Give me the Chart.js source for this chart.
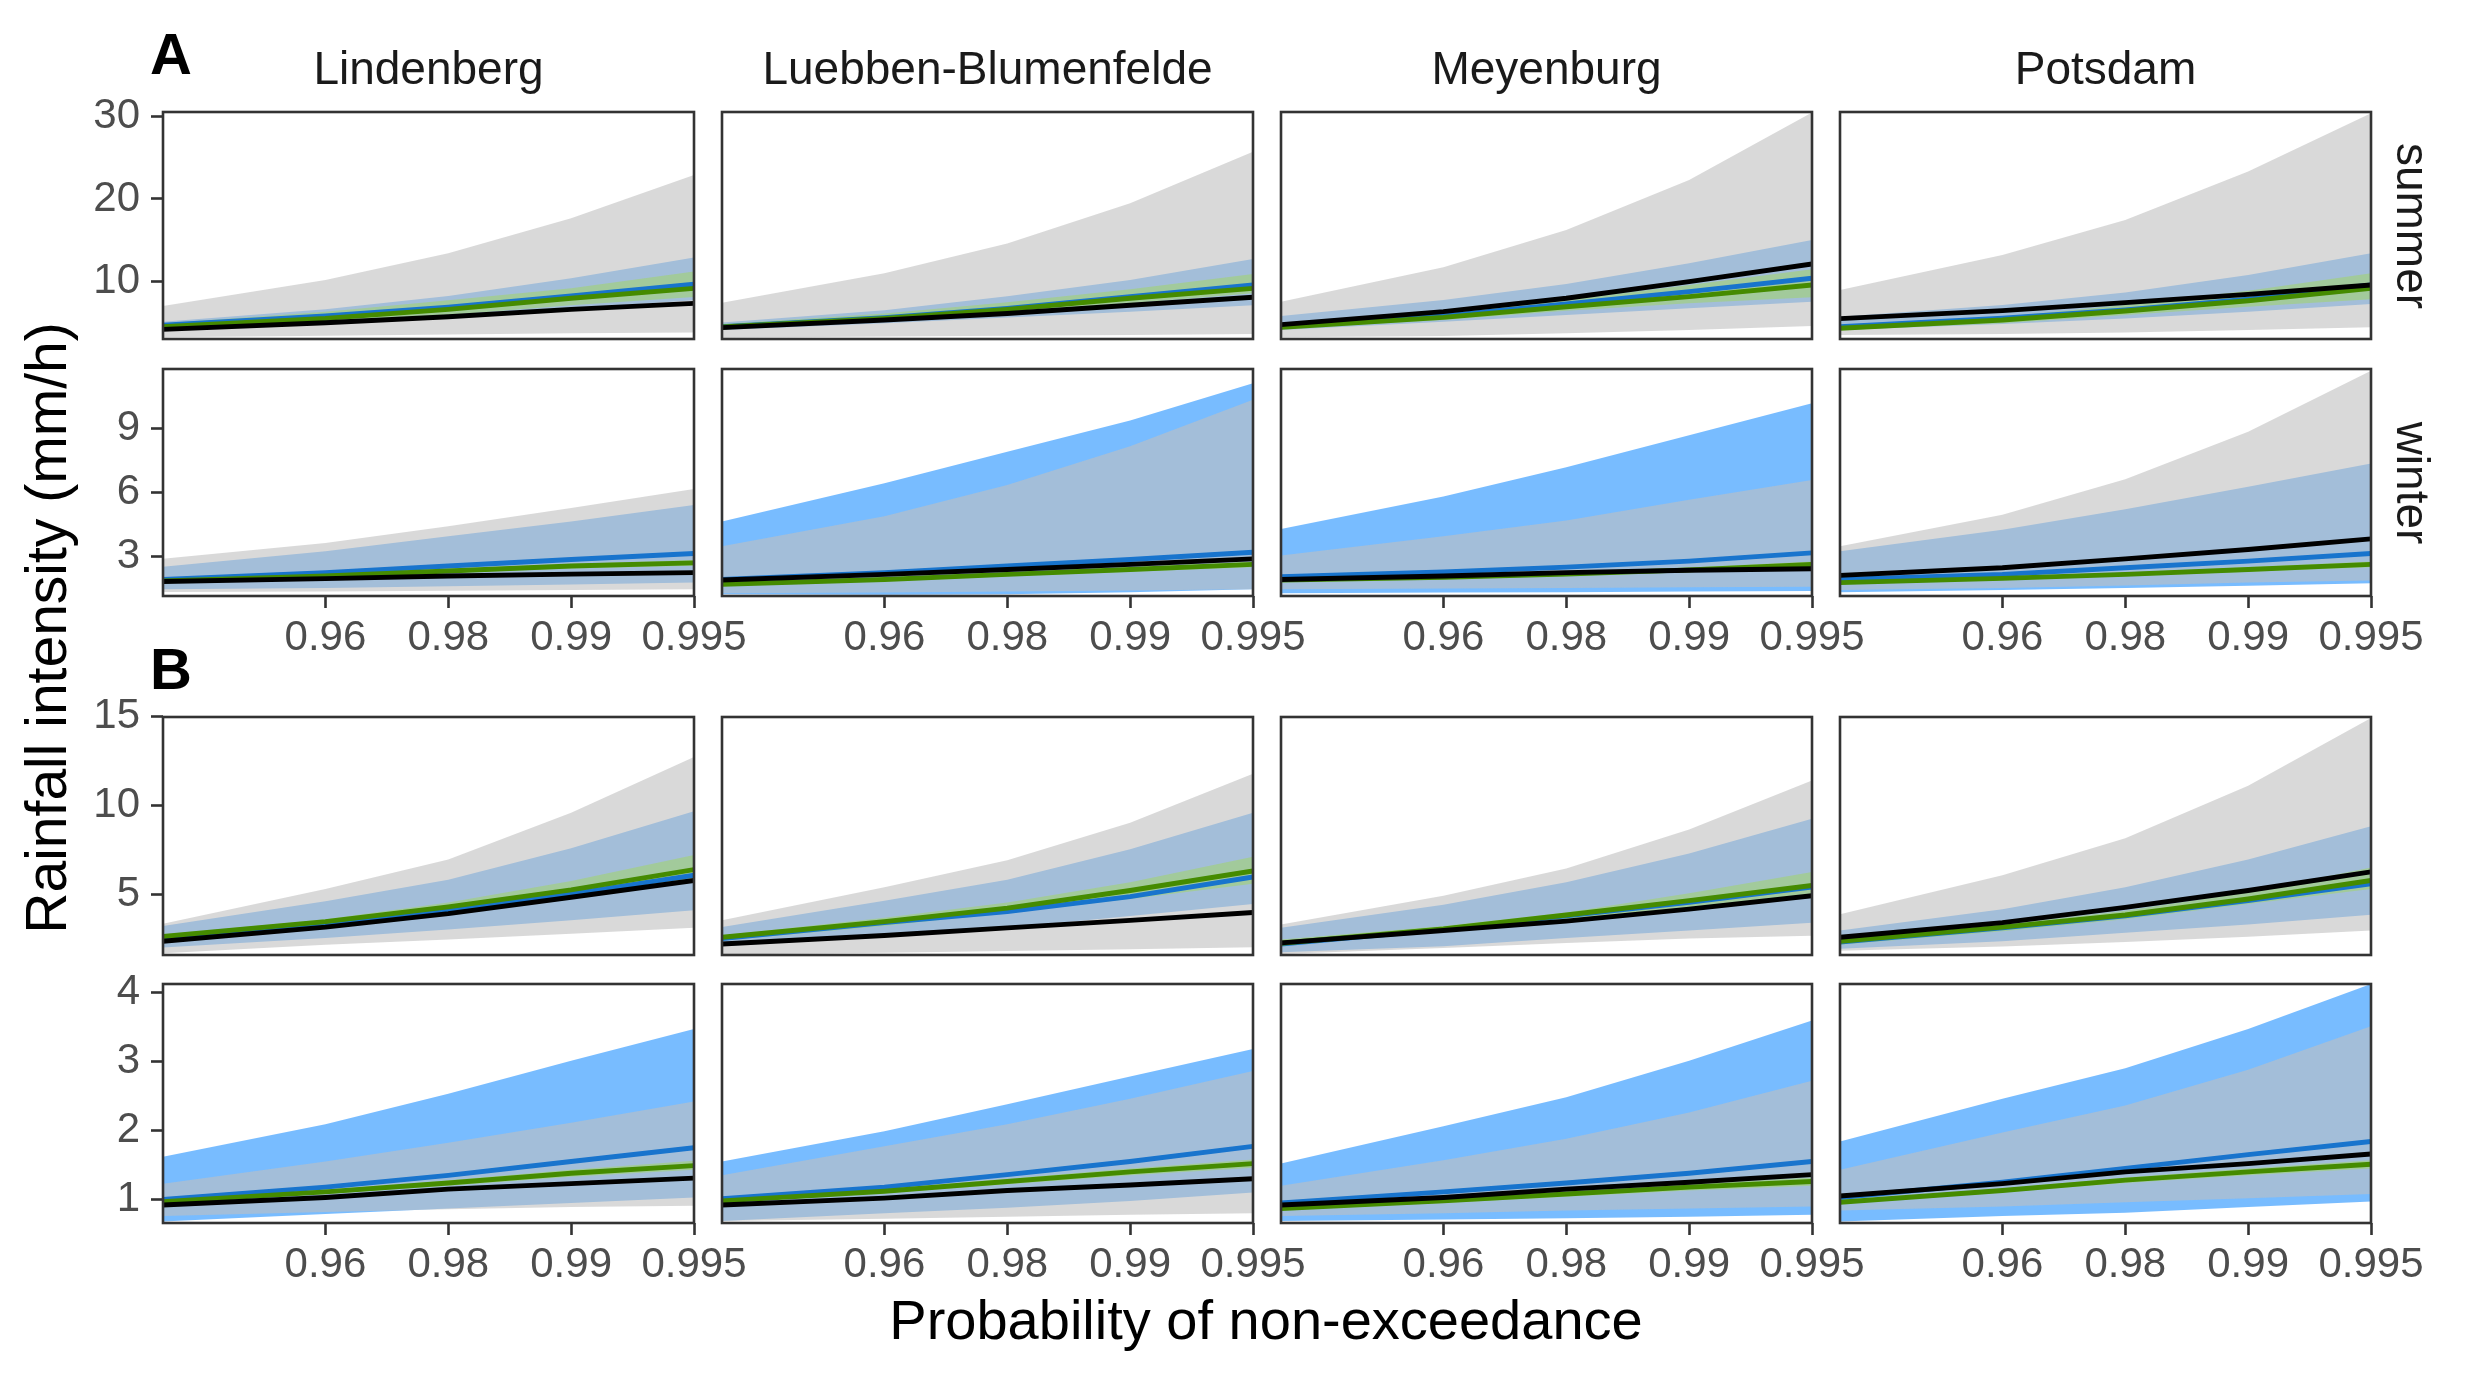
<!DOCTYPE html>
<html><head><meta charset="utf-8">
<script src="https://cdn.jsdelivr.net/npm/chart.js@4.4.1/dist/chart.umd.min.js"></script>
<style>
html,body{margin:0;padding:0;background:#fff;}
#root{position:relative;width:2482px;height:1379px;overflow:hidden;background:#fff;font-family:"Liberation Sans",Arial,sans-serif;}
#root canvas{position:absolute;}
.t{position:absolute;white-space:nowrap;line-height:1;}
</style></head><body><div id="root"></div>
<script>
// ---------------- DATA ----------------
const stations = ["Lindenberg", "Luebben-Blumenfelde", "Meyenburg", "Potsdam"];
const seasons = ["summer", "winter"];
const blockLabels = ["A", "B"];
const probs = [0.9, 0.96, 0.98, 0.99, 0.995];
const xTickProbs = [0.96, 0.98, 0.99, 0.995];
const xTickLabels = ["0.96", "0.98", "0.99", "0.995"];
const yTicks_A_summer = [10, 20, 30];
const yTicks_A_winter = [3, 6, 9];
const yTicks_B_summer = [5, 10, 15];
const yTicks_B_winter = [1, 2, 3, 4];
const yLim_A_summer = [3.0, 30.55];
const yLim_A_winter = [1.12, 11.81];
const yLim_B_summer = [1.57, 14.97];
const yLim_B_winter = [0.66, 4.12];

// each array: [Lindenberg, Luebben-Blumenfelde, Meyenburg, Potsdam], values at probs
const A_summer_grayLo = [[3.2,3.4,3.55,3.7,3.8],[3.15,3.3,3.4,3.5,3.6],[3.2,3.36,3.69,4.1,4.58],[3.49,3.6,3.8,4.1,4.42]];
const A_summer_grayHi = [[7.0,10.16,13.4,17.65,22.9],[7.41,10.97,14.6,19.47,25.74],[7.53,11.7,16.23,22.3,30.48],[8.95,13.2,17.45,23.32,30.4]];
const A_summer_blueLo = [[4.0,4.8,5.6,6.7,7.7],[4.1,4.9,5.6,6.3,7.1],[4.1,5.1,5.91,6.72,7.53],[4.1,4.82,5.5,6.32,7.25]];
const A_summer_blueHi = [[5.1,6.6,8.22,10.37,12.9],[5.0,6.5,8.2,10.16,12.7],[5.79,7.73,9.68,12.19,15.02],[5.71,7.13,8.63,10.77,13.4]];
const A_summer_greenLo = [[4.1,5.0,5.9,7.1,8.1],[4.17,5.19,6.1,7.33,8.54],[4.17,5.3,6.44,7.33,8.06],[4.1,4.9,5.91,6.92,7.82]];
const A_summer_greenHi = [[4.9,6.3,7.7,9.15,11.2],[4.82,6.1,7.45,9.03,10.9],[4.7,6.12,7.73,9.56,11.46],[4.5,5.71,7.13,8.87,10.97]];
const A_summer_blueLine = [[4.66,5.8,6.85,8.22,9.64],[4.5,5.6,6.72,8.14,9.56],[4.5,5.79,7.25,8.75,10.37],[4.5,5.51,6.52,7.82,9.56]];
const A_summer_greenLine = [[4.5,5.5,6.6,7.94,9.15],[4.46,5.5,6.6,7.94,9.15],[4.42,5.63,6.92,8.14,9.56],[4.3,5.3,6.4,7.65,9.15]];
const A_summer_black = [[4.17,4.98,5.7,6.6,7.33],[4.38,5.3,6.1,7.1,8.06],[4.74,6.32,7.94,9.96,12.11],[5.47,6.44,7.41,8.42,9.56]];

const A_winter_grayLo = [[1.31,1.33,1.37,1.4,1.44],[1.25,1.28,1.33,1.38,1.44],[1.44,1.47,1.5,1.53,1.56],[1.4,1.5,1.62,1.75,1.85]];
const A_winter_grayHi = [[2.87,3.62,4.4,5.26,6.16],[3.46,4.87,6.35,8.17,10.36],[3.03,3.93,4.68,5.65,6.58],[3.46,4.95,6.62,8.85,11.73]];
const A_winter_blueLo = [[1.44,1.5,1.58,1.66,1.75],[1.2,1.18,1.2,1.3,1.44],[1.25,1.28,1.3,1.33,1.36],[1.3,1.4,1.5,1.6,1.72]];
const A_winter_blueHi = [[2.5,3.23,3.93,4.63,5.41],[4.63,6.43,7.91,9.39,11.14],[4.28,5.8,7.18,8.69,10.2],[3.23,4.24,5.21,6.27,7.36]];
const A_winter_greenLo = [[1.78,1.99,2.21,2.42,2.55],[1.62,1.83,2.05,2.26,2.47],[1.82,1.93,2.06,2.24,2.46],[1.7,1.88,2.05,2.26,2.47]];
const A_winter_greenHi = [[1.88,2.13,2.39,2.64,2.82],[1.72,1.97,2.23,2.48,2.75],[1.92,2.07,2.24,2.46,2.74],[1.8,2.02,2.23,2.48,2.75]];
const A_winter_blueLine = [[1.9,2.22,2.53,2.84,3.12],[1.9,2.22,2.53,2.84,3.18],[2.03,2.25,2.48,2.76,3.15],[1.9,2.14,2.45,2.76,3.12]];
const A_winter_greenLine = [[1.83,2.06,2.3,2.53,2.68],[1.67,1.9,2.14,2.37,2.61],[1.87,2.0,2.15,2.35,2.6],[1.75,1.95,2.14,2.37,2.61]];
const A_winter_black = [[1.8,1.94,2.06,2.15,2.22],[1.87,2.14,2.37,2.61,2.87],[1.9,2.06,2.22,2.33,2.4],[2.09,2.45,2.87,3.31,3.81]];

const B_summer_grayLo = [[1.67,2.15,2.44,2.76,3.1],[1.6,1.7,1.8,1.9,2.0],[1.62,1.96,2.25,2.5,2.65],[1.81,2.05,2.3,2.6,2.95]];
const B_summer_grayHi = [[3.33,5.29,6.95,9.58,12.72],[3.52,5.39,6.91,9.01,11.77],[3.29,4.91,6.44,8.63,11.39],[3.87,6.06,8.15,11.1,14.91]];
const B_summer_blueLo = [[1.99,2.53,3.01,3.52,4.09],[2.06,2.63,3.1,3.77,4.44],[1.73,2.06,2.53,2.95,3.39],[1.92,2.34,2.82,3.29,3.83]];
const B_summer_blueHi = [[3.2,4.59,5.81,7.58,9.67],[3.14,4.63,5.81,7.52,9.58],[3.1,4.4,5.67,7.29,9.24],[2.95,4.15,5.39,6.95,8.82]];
const B_summer_greenLo = [[2.44,3.2,4.06,4.91,5.77],[2.38,3.2,3.96,4.72,5.58],[2.11,2.91,3.48,4.09,4.82],[2.15,2.91,3.58,4.44,5.29]];
const B_summer_greenHi = [[2.72,3.58,4.53,5.73,7.2],[2.68,3.67,4.53,5.67,7.1],[2.44,3.2,3.96,5.05,6.25],[2.38,3.29,4.06,5.1,6.49]];
const B_summer_blueLine = [[2.53,3.33,4.11,5.01,6.06],[2.49,3.39,4.02,4.86,5.96],[2.19,3.01,3.77,4.53,5.39],[2.3,3.1,3.77,4.63,5.58]];
const B_summer_greenLine = [[2.61,3.45,4.28,5.24,6.38],[2.57,3.45,4.21,5.2,6.3],[2.23,3.04,3.82,4.63,5.48],[2.34,3.14,3.82,4.72,5.77]];
const B_summer_black = [[2.34,3.14,3.9,4.82,5.77],[2.19,2.67,3.1,3.52,3.96],[2.25,2.95,3.48,4.15,4.91],[2.57,3.39,4.25,5.2,6.25]];

const B_winter_grayLo = [[0.76,0.82,0.86,0.89,0.91],[0.69,0.72,0.75,0.78,0.8],[0.76,0.8,0.84,0.87,0.9],[0.84,0.9,0.96,1.02,1.08]];
const B_winter_grayHi = [[1.23,1.55,1.82,2.11,2.42],[1.35,1.77,2.09,2.46,2.86],[1.2,1.57,1.88,2.26,2.72],[1.43,1.97,2.36,2.88,3.51]];
const B_winter_blueLo = [[0.68,0.79,0.87,0.95,1.03],[0.69,0.8,0.88,0.98,1.1],[0.69,0.71,0.73,0.75,0.78],[0.68,0.76,0.81,0.89,0.97]];
const B_winter_blueHi = [[1.62,2.09,2.53,3.01,3.47],[1.55,1.99,2.38,2.78,3.18],[1.52,2.06,2.48,3.01,3.59],[1.84,2.46,2.9,3.47,4.12]];
const B_winter_greenLo = [[0.95,1.08,1.2,1.33,1.43],[0.96,1.09,1.22,1.35,1.46],[0.85,0.95,1.04,1.13,1.2],[0.94,1.1,1.24,1.35,1.45]];
const B_winter_greenHi = [[0.99,1.14,1.28,1.43,1.56],[1.0,1.15,1.3,1.45,1.58],[0.89,1.01,1.12,1.23,1.32],[0.98,1.16,1.32,1.45,1.57]];
const B_winter_blueLine = [[1.0,1.18,1.35,1.55,1.75],[1.01,1.18,1.36,1.55,1.77],[0.95,1.11,1.24,1.38,1.55],[1.03,1.25,1.45,1.65,1.84]];
const B_winter_greenLine = [[0.97,1.11,1.24,1.38,1.49],[0.98,1.12,1.26,1.4,1.52],[0.87,0.98,1.08,1.18,1.26],[0.96,1.13,1.28,1.4,1.51]];
const B_winter_black = [[0.92,1.03,1.15,1.23,1.31],[0.92,1.02,1.13,1.21,1.3],[0.92,1.03,1.15,1.25,1.36],[1.05,1.23,1.4,1.52,1.66]];

// ---------------- LAYOUT / STYLE ----------------
const FONT = '"Liberation Sans", Arial, sans-serif';
const COL_LEFT = [163, 722, 1281, 1840];
const PANEL_W = 531;
const ROWS = [
  {key:'A_summer', top:112, h:227, bottom:false, ticks:yTicks_A_summer, lim:yLim_A_summer,
   d:{grayLo:A_summer_grayLo, grayHi:A_summer_grayHi, blueLo:A_summer_blueLo, blueHi:A_summer_blueHi, greenLo:A_summer_greenLo, greenHi:A_summer_greenHi, blueLine:A_summer_blueLine, greenLine:A_summer_greenLine, black:A_summer_black}},
  {key:'A_winter', top:369, h:227, bottom:true, ticks:yTicks_A_winter, lim:yLim_A_winter,
   d:{grayLo:A_winter_grayLo, grayHi:A_winter_grayHi, blueLo:A_winter_blueLo, blueHi:A_winter_blueHi, greenLo:A_winter_greenLo, greenHi:A_winter_greenHi, blueLine:A_winter_blueLine, greenLine:A_winter_greenLine, black:A_winter_black}},
  {key:'B_summer', top:717, h:238, bottom:false, ticks:yTicks_B_summer, lim:yLim_B_summer,
   d:{grayLo:B_summer_grayLo, grayHi:B_summer_grayHi, blueLo:B_summer_blueLo, blueHi:B_summer_blueHi, greenLo:B_summer_greenLo, greenHi:B_summer_greenHi, blueLine:B_summer_blueLine, greenLine:B_summer_greenLine, black:B_summer_black}},
  {key:'B_winter', top:984, h:239, bottom:true, ticks:yTicks_B_winter, lim:yLim_B_winter,
   d:{grayLo:B_winter_grayLo, grayHi:B_winter_grayHi, blueLo:B_winter_blueLo, blueHi:B_winter_blueHi, greenLo:B_winter_greenLo, greenHi:B_winter_greenHi, blueLine:B_winter_blueLine, greenLine:B_winter_greenLine, black:B_winter_black}}
];
const tx = p => -Math.log10(1 - p);
const root = document.getElementById('root');

const panelBorder = {
  id: 'panelBorder',
  afterDraw(chart) {
    const {ctx, chartArea: a} = chart;
    ctx.save();
    ctx.strokeStyle = '#333333';
    ctx.lineWidth = 2.6;
    ctx.strokeRect(a.left, a.top, a.right - a.left, a.bottom - a.top);
    ctx.restore();
  }
};

function makeChart(r, c) {
  const isLeft = c === 0, isBottom = r.bottom;
  const padT = 40, padR = 60, padL = 4, padB = isBottom ? 4 : 40;
  const yw = isLeft ? 80 : 0, xh = isBottom ? 80 : 0;
  const cw = padL + yw + PANEL_W + padR, ch = padT + r.h + xh + padB;
  const cv = document.createElement('canvas');
  cv.width = cw; cv.height = ch;
  cv.style.left = (COL_LEFT[c] - padL - yw) + 'px';
  cv.style.top = (r.top - padT) + 'px';
  cv.style.width = cw + 'px'; cv.style.height = ch + 'px';
  root.appendChild(cv);
  const pts = arr => probs.map((p, k) => ({x: tx(p), y: arr[c][k]}));
  const none = 'rgba(0,0,0,0)';
  const bandLo = (arr, order) => ({data: pts(arr), borderColor: none, borderWidth: 1, fill: false, order});
  const bandHi = (arr, color, order) => ({data: pts(arr), borderColor: none, borderWidth: 1, fill: '-1', backgroundColor: color, order});
  const line = (arr, color, order) => ({data: pts(arr), borderColor: color, borderWidth: 4.9, fill: false, order});
  const D = r.d;
  const datasets = [
    bandLo(D.blueLo, 20), bandHi(D.blueHi, 'rgba(30,144,255,0.6)', 19),
    bandLo(D.greenLo, 18), bandHi(D.greenHi, 'rgba(118,238,0,0.6)', 17),
    bandLo(D.grayLo, 16), bandHi(D.grayHi, 'rgba(191,191,191,0.6)', 15),
    line(D.blueLine, '#1874CD', 3), line(D.greenLine, '#458B00', 2), line(D.black, '#000000', 1)
  ];
  const gridOpt = {display: true, drawOnChartArea: false, drawTicks: true, tickLength: 12, tickWidth: 2.6, tickColor: '#333333', color: '#333333'};
  new Chart(cv, {
    type: 'line',
    data: {datasets},
    options: {
      responsive: false, animation: false, devicePixelRatio: 1, parsing: false, normalized: true,
      layout: {padding: {top: padT, right: padR, bottom: padB, left: padL}},
      plugins: {legend: {display: false}, tooltip: {enabled: false}},
      elements: {line: {tension: 0, borderJoinStyle: 'round', borderCapStyle: 'butt'}, point: {radius: 0, hoverRadius: 0}},
      scales: {
        x: {type: 'linear', min: tx(probs[0]), max: tx(probs[probs.length - 1]), display: isBottom,
            afterFit: s => { s.height = xh; },
            afterBuildTicks: s => { s.ticks = xTickProbs.map(p => ({value: tx(p)})); },
            ticks: {autoSkip: false, maxRotation: 0, padding: 5, color: '#4D4D4D', font: {family: FONT, size: 42},
                    callback: (v, i) => xTickLabels[i]},
            grid: gridOpt, border: {display: false}},
        y: {type: 'linear', min: r.lim[0], max: r.lim[1], display: isLeft,
            afterFit: s => { s.width = yw; },
            afterBuildTicks: s => { s.ticks = r.ticks.map(v => ({value: v})); },
            ticks: {autoSkip: false, padding: 11, color: '#4D4D4D', font: {family: FONT, size: 42},
                    callback: v => String(v)},
            grid: gridOpt, border: {display: false}}
      }
    },
    plugins: [panelBorder]
  });
}

ROWS.forEach(r => { for (let c = 0; c < 4; c++) makeChart(r, c); });

// ---------------- TEXT ----------------
function addText(txt, css) {
  const el = document.createElement('div');
  el.className = 't';
  el.textContent = txt;
  Object.assign(el.style, css);
  root.appendChild(el);
  return el;
}
const BL = 0.8465; // baseline offset factor for line-height:1
// block labels
addText(blockLabels[0], {left: '150px', top: (74 - BL * 58) + 'px', fontSize: '58px', fontWeight: 'bold', color: '#000'});
addText(blockLabels[1], {left: '150px', top: (689.5 - BL * 58) + 'px', fontSize: '58px', fontWeight: 'bold', color: '#000'});
// column strips
stations.forEach((s, c) => {
  addText(s, {left: (COL_LEFT[c] + PANEL_W / 2) + 'px', top: (83.5 - BL * 46) + 'px', fontSize: '46px', color: '#1A1A1A', transform: 'translateX(-50%)'});
});
// row strips (block A only)
[ROWS[0], ROWS[1]].forEach((r, i) => {
  addText(seasons[i], {left: '2413px', top: (r.top + r.h / 2) + 'px', fontSize: '46px', color: '#1A1A1A', transform: 'translate(-50%,-50%) rotate(90deg)'});
});
// axis titles
addText('Rainfall intensity (mm/h)', {left: (66 - 0.3465 * 57) + 'px', top: '628px', fontSize: '57px', color: '#000', transform: 'translate(-50%,-50%) rotate(-90deg)'});
addText('Probability of non-exceedance', {left: '1266px', top: (1339 - BL * 56) + 'px', fontSize: '56px', color: '#000', transform: 'translateX(-50%)'});
</script>
</body></html>
